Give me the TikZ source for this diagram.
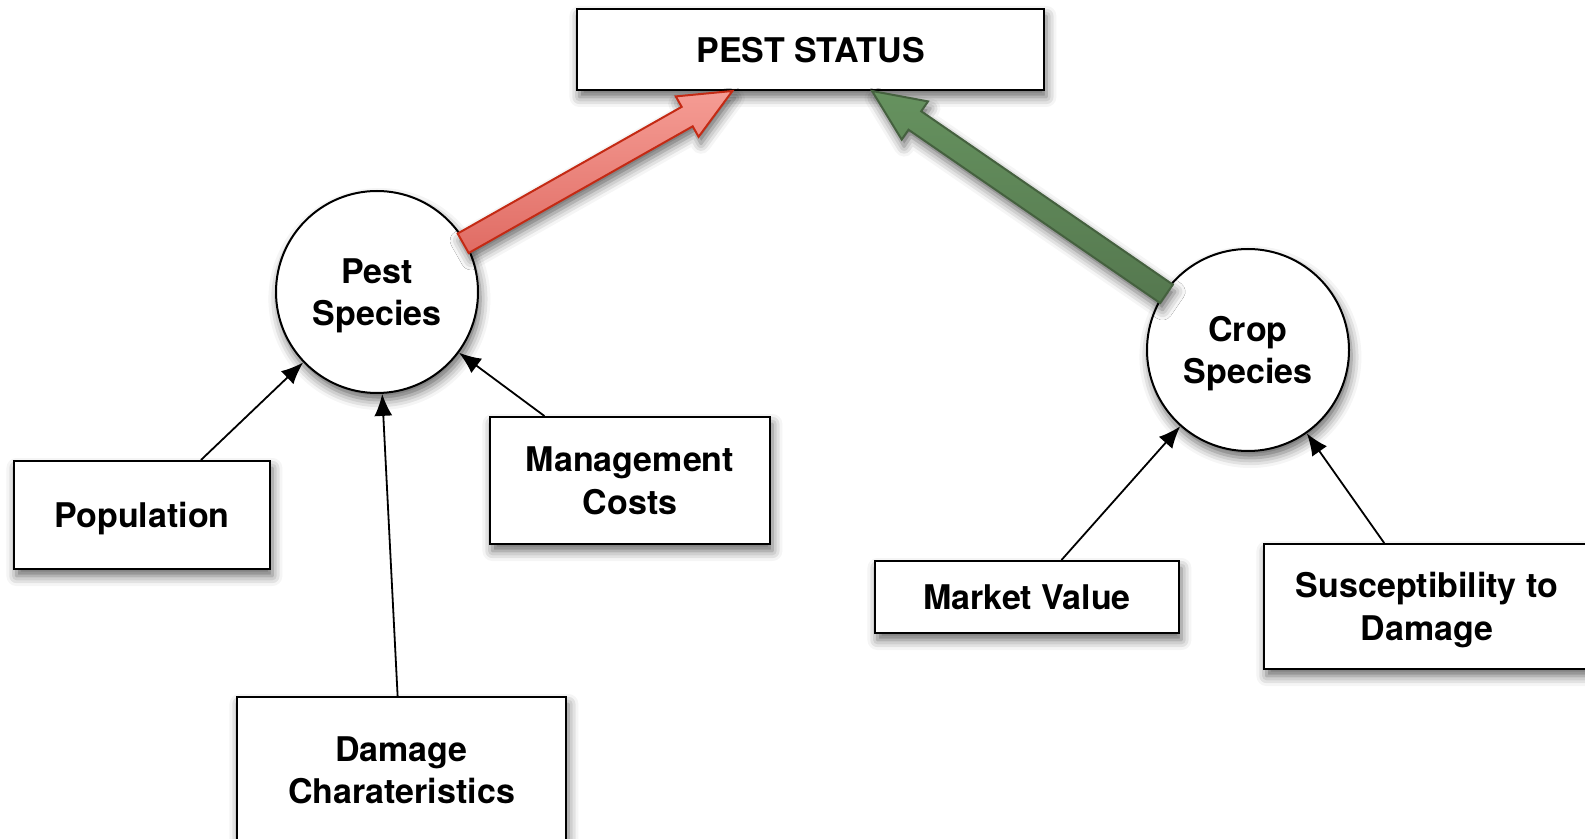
\documentclass[tikz,border=0pt]{standalone}
\usepackage{fontspec}
\setmainfont{TeX Gyre Heros}
\usetikzlibrary{calc,positioning,arrows.meta,shadows.blur}
\definecolor{redlight}{HTML}{F59C94}
\definecolor{reddark}{HTML}{E06C64}
\definecolor{redline}{HTML}{C42A14}
\definecolor{greenlight}{HTML}{66925F}
\definecolor{greendark}{HTML}{55784F}
\definecolor{greenline}{HTML}{45613F}

% broad arrow from the rim of a circle node to a tip
\newcommand\fatarrow[3]{%
  \coordinate (fa-a) at ($(#2.center)!49.5pt!(#3)$);
  \coordinate (fa-c) at ($(#3)!26pt!(fa-a)$);
  \draw[#1] ($(fa-a)!5.6pt!90:(#3)$) -- ($(fa-c)!5.6pt!90:(#3)$)
    -- ($(fa-c)!11.6pt!90:(#3)$) -- (#3) -- ($(fa-c)!11.6pt!-90:(#3)$)
    -- ($(fa-c)!5.6pt!-90:(#3)$) -- ($(fa-a)!5.6pt!-90:(#3)$) -- cycle;}

\begin{document}
\begin{tikzpicture}[x=0.5pt,y=-0.5pt,
    every node/.style={font=\fontsize{17}{21.2}\selectfont\bfseries,align=center,
      text depth=0pt},
    softshadow/.style={blur shadow={shadow xshift=1.2pt,shadow yshift=-3.5pt,
      shadow blur radius=5pt,shadow opacity=60}},
    box/.style={draw,line width=1pt,fill=white,inner sep=0pt,softshadow},
    ball/.style={draw,circle,line width=1pt,fill=white,inner sep=0pt,
      minimum size=101pt,softshadow},
    link/.style={-{Latex[length=11pt,width=9pt]},line width=0.9pt},
    redarrow/.style={line width=1pt,draw=redline,top color=redlight,
      bottom color=reddark,softshadow},
    greenarrow/.style={line width=1pt,draw=greenline,top color=greenlight,
      bottom color=greendark,softshadow}]
 \useasboundingbox (0,0) rectangle (1585,839);
 \node[box,minimum width=233.5pt,minimum height=40.5pt] (status) at (810.5,49.5)
  {PEST STATUS};
 \node[ball] (pest) at (377,292) {Pest\\Species};
 \node[ball] (crop) at (1248,350) {Crop\\Species};
 \node[box,minimum width=128pt,minimum height=54pt] (pop) at (142,515)
  {Population};
 \node[box,minimum width=140pt,minimum height=63.5pt] (mgmt) at (630,480.5)
  {Management\\Costs};
 \node[box,minimum width=164.5pt,minimum height=73pt] (dmg) at (401.5,770)
  {Damage\\Charateristics};
 \node[box,minimum width=152pt,minimum height=36pt] (mkt) at (1027,597)
  {Market Value};
 \node[box,minimum width=163pt,minimum height=62.5pt] (sus) at (1427,606.5)
  {Susceptibility to\\Damage};
 \draw[link] (pop.43) -- (pest);
 \draw[link] (dmg.93) -- (pest);
 \draw[link] (mgmt.143) -- (pest);
 \draw[link] (mkt.47) -- (crop);
 \draw[link] (sus.124) -- (crop);
 \fatarrow{redarrow}{pest}{status.208}
 \fatarrow{greenarrow}{crop}{status.326}
\end{tikzpicture}
\end{document}
